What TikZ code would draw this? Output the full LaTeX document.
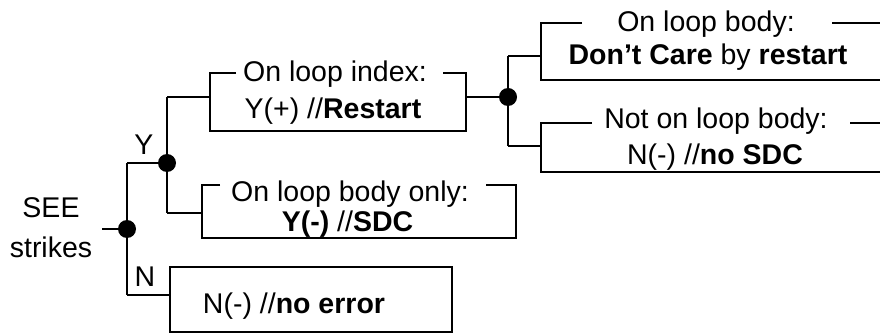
\documentclass[tikz,border=0pt]{standalone}
\usepackage{fontspec}
\setmainfont{Liberation Sans}
\begin{document}
\begin{tikzpicture}[x=1pt,y=-1pt,line width=2pt,
  dot/.style={circle,fill=black,inner sep=0pt,minimum size=18pt},
  txt/.style={anchor=base,inner sep=0pt,font=\fontsize{28.5}{34}\selectfont},
  ]
\useasboundingbox (0,0) rectangle (880,336);
\clip (0,0) rectangle (880,336);

% junctions and branch points
\coordinate (in) at (102,229);
\coordinate (j0) at (127,229);
\coordinate (j1) at (167,163);
\coordinate (j2) at (508,97);
\coordinate (nY) at (127,163);
\coordinate (nN) at (127,295);
\coordinate (u1) at (167,97);
\coordinate (d1) at (167,213);
\coordinate (u2) at (508,56);
\coordinate (d2) at (508,146);

% box corners
\coordinate (b1tl) at (210,73);  \coordinate (b1br) at (466,131);
\coordinate (b2tl) at (202,185); \coordinate (b2br) at (516,238);
\coordinate (b3tl) at (541,23);  \coordinate (b3br) at (900,80);
\coordinate (b4tl) at (541,123); \coordinate (b4br) at (900,172);

% texts
\node[txt] (see) at (51,218) {SEE};
\node[txt] (strikes) at (51,258) {strikes};
\node[txt] (ly) at (144,155) {Y};
\node[txt] (ln) at (145,287) {N};

\node[txt] (t1) at (335,82) {On loop index:};
\node[txt] (r1) at (333,119) {Y(+) //\textbf{Restart}};
\node[txt] (t2) at (350,202) {On loop body only:};
\node[txt] (r2) at (347.5,232) {\textbf{Y(-)} //\textbf{SDC}};
\node[txt] (t3) at (706,32) {On loop body:};
\node[txt] (r3) at (708,65) {\textbf{Don’t Care} by \textbf{restart}};
\node[txt] (t4) at (716,129) {Not on loop body:};
\node[txt] (r4) at (715,165) {N(-) //\textbf{no SDC}};

\node[draw,inner sep=0pt,minimum width=282pt,minimum height=65pt] (nbox) at (311,299.5) {};
\node[txt] (r5) at (294,313) {N(-) //\textbf{no error}};

% boxes with titles set into the top edge
\draw (236,73) -- (b1tl) -- (b1tl |- b1br) -- (b1br) -- (b1br |- b1tl) -- (443,73);
\draw (220,185) -- (b2tl) -- (b2tl |- b2br) -- (b2br) -- (b2br |- b2tl) -- (486,185);
\draw (582,23) -- (b3tl) -- (b3tl |- b3br) -- (b3br);
\draw (832,23) -- (b3br |- b3tl);
\draw (592,123) -- (b4tl) -- (b4tl |- b4br) -- (b4br);
\draw (850,123) -- (b4br |- b4tl);

% tree connectors
\draw (in) -- (j0);
\draw (nY) -- (nN);
\draw (nY) -- (j1);
\draw (nN) -- (nbox.west |- nN);
\draw (u1) -- (d1);
\draw (u1) -- (b1tl |- u1);
\draw (d1) -- (b2tl |- d1);
\draw (b1br |- j2) -- (j2);
\draw (u2) -- (d2);
\draw (u2) -- (b3tl |- u2);
\draw (d2) -- (b4tl |- d2);

\node[dot] at (j0) {};
\node[dot] at (j1) {};
\node[dot] at (j2) {};
\end{tikzpicture}
\end{document}
